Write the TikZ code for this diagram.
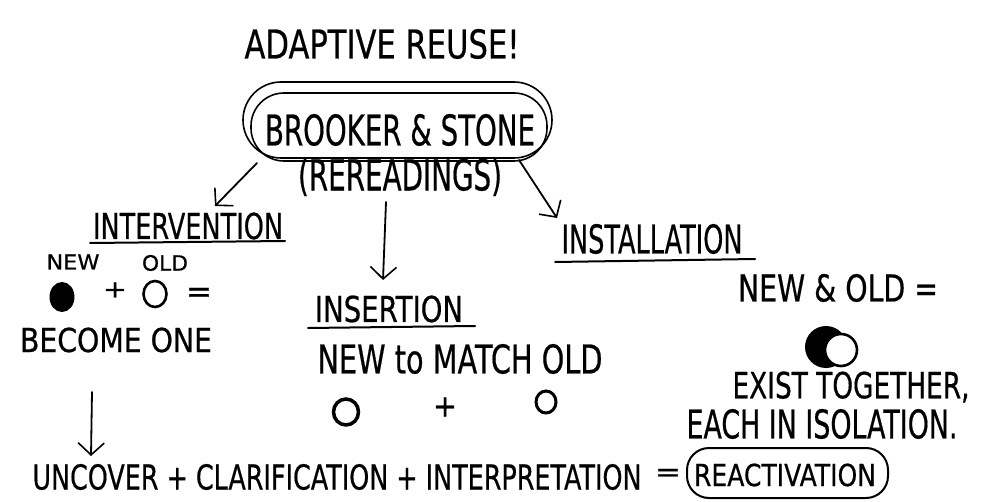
\documentclass[tikz,border=0pt]{standalone}
\usepackage{fontspec}
\setmainfont{DejaVu Sans}[FakeBold=0.6]
\usepackage{graphicx}
\usetikzlibrary{arrows.meta}
\newcommand\fitbox[3]{\resizebox*{#1pt}{#2pt}{\fontsize{26}{30}\selectfont #3}}
\tikzset{
  hand/.style={inner sep=0pt, outer sep=0pt, anchor=center},
  ink/.style={line width=1.8pt, line cap=round, line join=round},
  arr/.style={ink, -{Straight Barb[length=12pt,width=26pt,line width=1.6pt]}},
  uline/.style={line width=2pt, line cap=round},
  loop/.style={line width=1.6pt},
}
\begin{document}
\begin{tikzpicture}[x=1pt,y=-1pt]
\useasboundingbox[fill=white] (0,0) rectangle (984,502);

% title
\node[hand] (title) at (382,44) {\fitbox{275}{30}{ADAPTIVE REUSE!}};

% Brooker & Stone double loop
\node[hand] (bs) at (400,130) {\fitbox{270}{32}{BROOKER \& STONE}};
\draw[loop, rounded corners=38pt] (243,82) rectangle (552,158);
\draw[loop, rounded corners=33pt] (251,93) rectangle (547,161);
\node[hand] (rr) at (400,177) {\fitbox{204}{38}{(REREADINGS)}};

% arrows
\coordinate (a1s) at (257,163); \coordinate (a1e) at (215,206);
\coordinate (a2s) at (386,202); \coordinate (a2e) at (383,280);
\coordinate (a3s) at (519,160); \coordinate (a3e) at (557,218);
\coordinate (a4s) at (92,392);  \coordinate (a4e) at (91,456);
\draw[arr] (a1s) -- (a1e);
\draw[arr] (a2s) -- (a2e);
\draw[arr] (a3s) -- (a3e);
\draw[arr] (a4s) -- (a4e);

% intervention
\node[hand] (intv) at (188,226) {\fitbox{190}{27}{INTERVENTION}};
\coordinate (u1s) at (90,243); \coordinate (u1e) at (285,241);
\draw[uline] (u1s) -- (u1e);
\node[hand] (new1) at (73,262) {\fitbox{53}{15}{NEW}};
\node[hand] (old1) at (165,263) {\fitbox{46}{16}{OLD}};
\fill (62,297) ellipse [x radius=12.5, y radius=15];
\node[hand] (plus1) at (115,290) {\fitbox{24}{15}{+}};
\draw[line width=2.6pt] (155,294) ellipse [x radius=11.5, y radius=13];
\node[hand] (eq1) at (199,295) {\fitbox{26}{14}{=}};
\node[hand] (become) at (116,340) {\fitbox{192}{25}{BECOME ONE}};

% insertion
\node[hand] (ins) at (389,309) {\fitbox{148}{27}{INSERTION}};
\coordinate (u2s) at (308,328); \coordinate (u2e) at (475,326);
\draw[uline] (u2s) -- (u2e);
\node[hand] (ntm) at (460,359) {\fitbox{285}{30}{NEW to MATCH OLD}};
\draw[line width=3.5pt] (346,412) ellipse [x radius=12.5, y radius=13];
\node[hand] (plus2) at (445,407) {\fitbox{24}{19}{+}};
\draw[line width=3pt] (546,402) ellipse [x radius=10, y radius=11];

% installation
\node[hand] (inst) at (652,239) {\fitbox{181}{30}{INSTALLATION}};
\coordinate (u3s) at (555,262); \coordinate (u3e) at (755,259);
\draw[uline] (u3s) -- (u3e);
\node[hand] (no) at (838,288) {\fitbox{200}{28}{NEW \& OLD =}};
\fill (826,347) circle [radius=21];
\draw[line width=2.6pt, fill=white] (841,350) circle [radius=16];
\node[hand] (exist) at (851,387) {\fitbox{237}{31}{EXIST TOGETHER,}};
\node[hand] (each) at (822,424) {\fitbox{271}{30}{EACH IN ISOLATION.}};

% bottom line
\node[hand] (bottom) at (337,477) {\fitbox{609}{26}{UNCOVER + CLARIFICATION + INTERPRETATION}};
\node[hand] (eq2) at (668,475) {\fitbox{26}{12}{=}};
\node[hand] (react) at (785,475) {\fitbox{182}{23}{REACTIVATION}};
\draw[line width=2pt, rounded corners=22pt] (687,448) rectangle (888,498);
\end{tikzpicture}
\end{document}
